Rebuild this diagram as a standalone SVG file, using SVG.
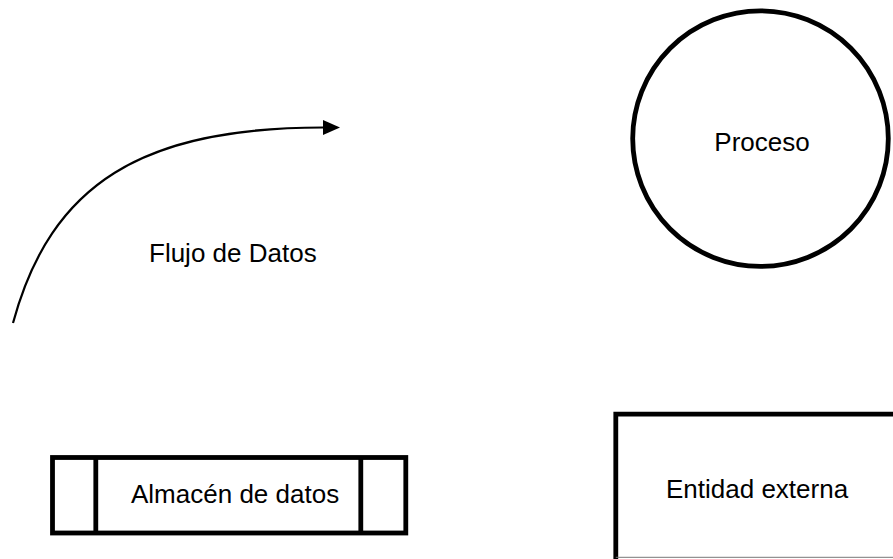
<svg xmlns="http://www.w3.org/2000/svg" width="893" height="559" viewBox="0 0 893 559">
<style>
  .shape { fill: none; stroke: #000; stroke-width: 4.8; }
  .flow { fill: none; stroke: #000; stroke-width: 2.2; }
  .label { font-family: "Liberation Sans", Arial, sans-serif; font-size: 26px; fill: #000; }
</style>
<defs>
  <marker id="arrow" markerUnits="userSpaceOnUse" markerWidth="17" markerHeight="15" viewBox="0 0 17 15" refX="0" refY="7.5" orient="auto">
    <path d="M0,0 L17,7.5 L0,15 Z" fill="#000"/>
  </marker>
</defs>
<rect width="893" height="559" fill="#fff"/>
<g id="connectors">
  <path class="flow" d="M13,323 C51,183 143,127.5 323,127.5" marker-end="url(#arrow)"/>
  <text class="label" x="149" y="262">Flujo de Datos</text>
</g>
<g id="proceso">
  <circle class="shape" cx="760.5" cy="138.6" r="127.8"/>
  <text class="label" x="762" y="150.5" text-anchor="middle">Proceso</text>
</g>
<g id="almacen">
  <rect class="shape" x="52.5" y="457.5" width="353.3" height="75.5"/>
  <line class="shape" x1="95.8" y1="457.5" x2="95.8" y2="533"/>
  <line class="shape" x1="360.8" y1="457.5" x2="360.8" y2="533"/>
  <text class="label" x="131" y="503.3">Almacén de datos</text>
</g>
<g id="entidad">
  <path class="shape" d="M900,414.2 H615.8 V562"/>
  <line x1="615.8" y1="557.3" x2="893" y2="557.3" stroke="#777" stroke-width="1"/>
  <text class="label" x="666" y="498">Entidad externa</text>
</g>
</svg>
